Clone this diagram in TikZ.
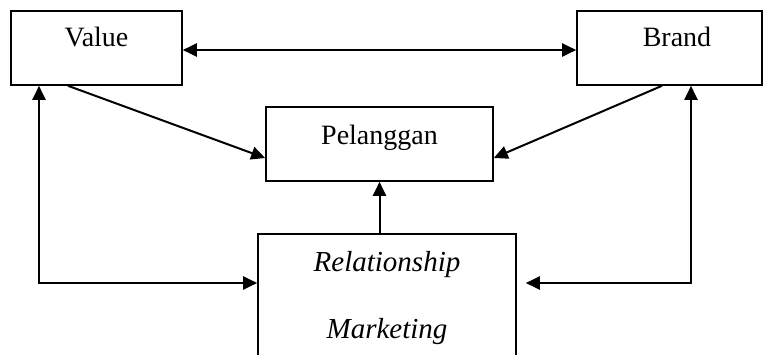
\documentclass[tikz,border=0pt]{standalone}
\usepackage{fontspec}
\setmainfont{Liberation Serif}
\usetikzlibrary{arrows.meta}
\begin{document}
\begin{tikzpicture}[x=1pt,y=-1pt,
  box/.style={draw, line width=1.6pt, inner sep=0pt, font=\fontsize{28}{32}\selectfont},
  lbl/.style={inner sep=0pt, anchor=base, font=\fontsize{29}{32}\selectfont\itshape},
  arr/.style={line width=2pt, -{Triangle[length=14pt,width=13pt]}},
  darr/.style={line width=2pt, {Triangle[length=14pt,width=13pt]}-{Triangle[length=14pt,width=13pt]}}]
\useasboundingbox (0,0) rectangle (763,355);
\node[box, minimum width=171pt, text height=36pt, text depth=38pt, anchor=base] (value) at (96.5,47) {Value};
\node[box, minimum width=185pt, text height=36pt, text depth=38pt, anchor=base] (brand) at (669.5,47) {\hspace*{15pt}Brand};
\node[box, minimum width=227pt, text height=38pt, text depth=36pt, anchor=base] (pel) at (379.5,145) {Pelanggan};
\node[box, minimum width=258pt, minimum height=150pt, anchor=north] (rm) at (387,233) {};
\node[lbl] (t1) at (387,272) {Relationship};
\node[lbl] (t2) at (387,338) {Marketing};
\coordinate (lc) at (39,283);
\coordinate (rc) at (691,283);
\draw[darr] (value.east |- 0,50) -- (brand.west |- 0,50);
\draw[arr] (value.south -| 68,0) -- (pel.west |- 0,158);
\draw[arr] (brand.south -| 662,0) -- (pel.east |- 0,158);
\draw[arr] (rm.north -| pel.south) -- (pel.south);
\draw[darr] (value.south -| lc) -- (lc) -- (rm.west |- lc);
\draw[darr, shorten >=9pt] (brand.south -| rc) -- (rc) -- (rm.east |- rc);
\end{tikzpicture}
\end{document}
